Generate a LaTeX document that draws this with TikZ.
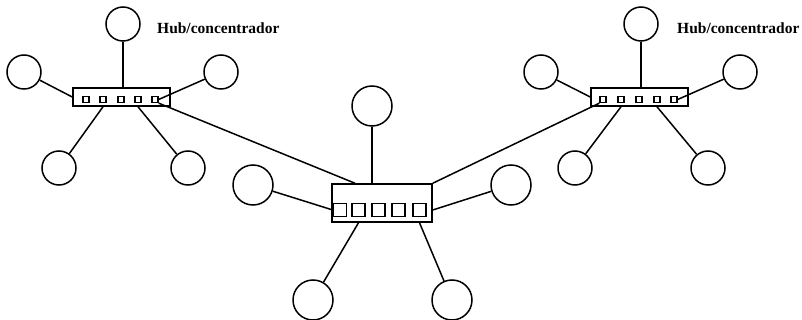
\documentclass[tikz,border=0pt]{standalone}
\usepackage{fontspec}
\setmainfont{Liberation Serif}
\begin{document}
\begin{tikzpicture}[x=1pt,y=-1pt,
  lw/.style={line width=1.5pt},
  pc/.style={circle,draw,lw,inner sep=0pt,minimum size=34pt},
  bigpc/.style={circle,draw,lw,inner sep=0pt,minimum size=40pt},
  hubbox/.style={rectangle,draw,lw,inner sep=0pt,minimum width=97pt,minimum height=18pt},
  bighub/.style={rectangle,draw,lw,inner sep=0pt,minimum width=100pt,minimum height=38pt},
  port/.style={rectangle,draw,line width=1.3pt,inner sep=0pt,minimum size=6pt},
  bigport/.style={rectangle,draw,lw,inner sep=0pt,minimum size=13pt},
  wire/.style={lw},
  lbl/.style={font=\fontsize{15.5pt}{17pt}\selectfont\bfseries,inner sep=0pt,anchor=base west}]
\useasboundingbox (0,0) rectangle (802,320);
% left hub
\node[hubbox] (lh) at (121.5,97) {};
\foreach \i/\x in {1/86,2/103,3/121,4/138,5/155} \node[port] (lp\i) at (\x,99.5) {};
\node[pc] (lt) at (123,24) {};
\node[pc] (ll) at (24,72) {};
\node[pc] (lr) at (221,72) {};
\node[pc] (lbl) at (59,168) {};
\node[pc] (lbr) at (188,168) {};
\node[lbl] (ltext) at (157,34) {Hub/concentrador};
\draw[wire] (lt) -- (lt |- lh.north);
\draw[wire] (ll) -- (lh.west);
\draw[wire] (lr) -- (lp5.east);
\draw[wire] (lbl) -- (lp2 |- lh.south);
\draw[wire] (lbr) -- (lp4 |- lh.south);
% right hub
\node[hubbox] (rh) at (639.5,97) {};
\foreach \i/\x in {1/603,2/621,3/639,4/657,5/674} \node[port] (rp\i) at (\x,99.5) {};
\node[pc] (rt) at (641,24) {};
\node[pc] (rl) at (541,72) {};
\node[pc] (rr) at (740,72) {};
\node[pc] (rbl) at (575,168) {};
\node[pc] (rbr) at (708,168) {};
\node[lbl] (rtext) at (677,34) {Hub/concentrador};
\draw[wire] (rt) -- (rt |- rh.north);
\draw[wire] (rl) -- (rh.west);
\draw[wire] (rr) -- (rp5.east);
\draw[wire] (rbl) -- (rp2 |- rh.south);
\draw[wire] (rbr) -- (rp4 |- rh.south);
% central hub
\node[bighub] (ch) at (382,203) {};
\foreach \i/\x in {1/340,2/358.5,3/378.5,4/398.5,5/419.5} \node[bigport] (cp\i) at (\x,210) {};
\node[bigpc] (ct) at (372,106) {};
\node[bigpc] (cl) at (253,185) {};
\node[bigpc] (cr) at (511,185) {};
\node[bigpc] (cbl) at (313,300) {};
\node[bigpc] (cbr) at (452,300) {};
\draw[wire] (ct) -- (ct |- ch.north);
\draw[wire] (cl) -- (cp1.west);
\draw[wire] (cr) -- (cp5.east -| ch.east);
\draw[wire] (cbl) -- (cp2 |- ch.south);
\draw[wire] (cbr) -- (cp5 |- ch.south);
% trunks
\coordinate (ctl) at ([xshift=-27pt]ch.north);
\draw[wire] (lp5.south east) -- (ctl);
\draw[wire] (rp1.south west) -- (ch.north east);
\end{tikzpicture}
\end{document}
